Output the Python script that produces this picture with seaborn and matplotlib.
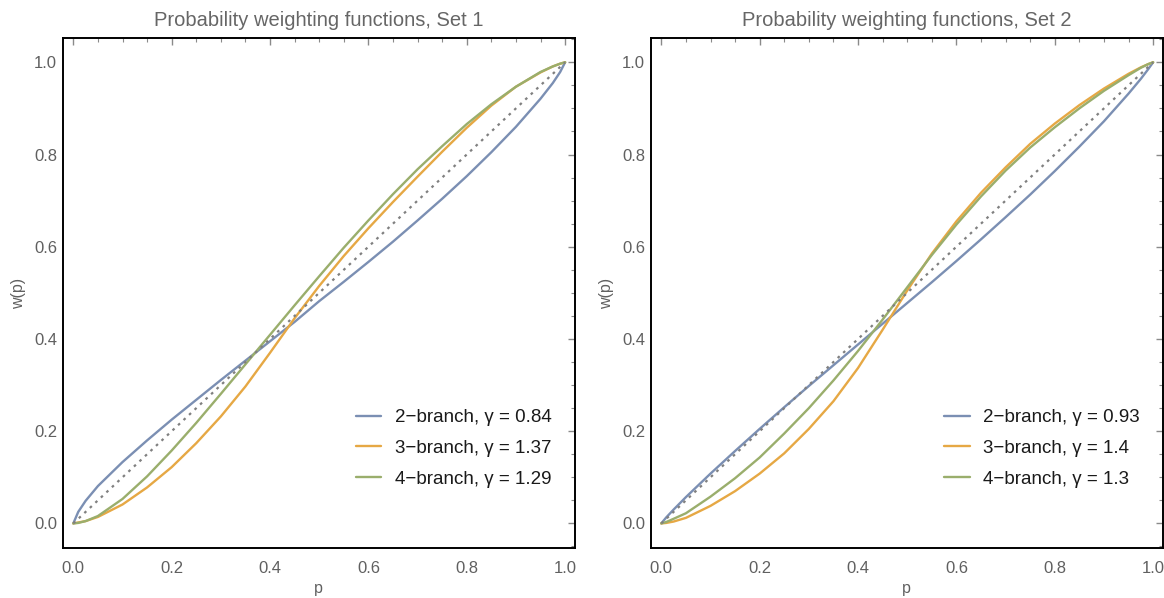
import matplotlib
matplotlib.use("Agg")
import matplotlib.pyplot as plt
import pandas as pd
import seaborn as sns
from matplotlib.ticker import MultipleLocator

# ---- data ----
p = [0, 0.01, 0.025, 0.05, 0.1, 0.15, 0.2, 0.25, 0.3, 0.35, 0.4, 0.45, 0.5,
     0.55, 0.6, 0.65, 0.7, 0.75, 0.8, 0.85, 0.9, 0.95, 0.975, 0.99, 1.0]

set1_labels = ["2\u2212branch, \u03b3 = 0.84", "3\u2212branch, \u03b3 = 1.37", "4\u2212branch, \u03b3 = 1.29"]
set1_2branch = [0, 0.025, 0.049, 0.081, 0.133, 0.180, 0.225, 0.268, 0.311, 0.353, 0.395, 0.437, 0.482,
                0.524, 0.567, 0.611, 0.657, 0.704, 0.753, 0.805, 0.860, 0.921, 0.955, 0.979, 1.0]
set1_3branch = [0, 0.002, 0.005, 0.014, 0.041, 0.078, 0.122, 0.174, 0.232, 0.297, 0.370, 0.445, 0.515,
                0.580, 0.640, 0.697, 0.752, 0.806, 0.858, 0.906, 0.947, 0.978, 0.991, 0.997, 1.0]
set1_4branch = [0, 0.001, 0.005, 0.016, 0.053, 0.102, 0.158, 0.218, 0.281, 0.345, 0.409, 0.473, 0.536,
                0.598, 0.657, 0.714, 0.768, 0.818, 0.866, 0.909, 0.947, 0.979, 0.991, 0.997, 1.0]

set2_labels = ["2\u2212branch, \u03b3 = 0.93", "3\u2212branch, \u03b3 = 1.4", "4\u2212branch, \u03b3 = 1.3"]
set2_2branch = [0, 0.013, 0.030, 0.057, 0.108, 0.157, 0.205, 0.252, 0.298, 0.343, 0.388, 0.433, 0.478,
                0.523, 0.569, 0.616, 0.664, 0.713, 0.764, 0.817, 0.872, 0.932, 0.964, 0.985, 1.0]
set2_3branch = [0, 0.001, 0.004, 0.012, 0.038, 0.070, 0.108, 0.152, 0.205, 0.265, 0.337, 0.420, 0.505,
                0.585, 0.655, 0.717, 0.772, 0.823, 0.867, 0.907, 0.943, 0.975, 0.989, 0.996, 1.0]
set2_4branch = [0, 0.003, 0.010, 0.022, 0.058, 0.098, 0.143, 0.195, 0.250, 0.310, 0.374, 0.442, 0.512,
                0.582, 0.648, 0.709, 0.765, 0.815, 0.859, 0.900, 0.938, 0.972, 0.988, 0.996, 1.0]

diag_p = [0, 1]
titles = ["Probability weighting functions, Set 1", "Probability weighting functions, Set 2"]
x_ticks = [0.0, 0.2, 0.4, 0.6, 0.8, 1.0]
y_ticks = [0.0, 0.2, 0.4, 0.6, 0.8, 1.0]

colors = ["#7b8fb3", "#e6a844", "#9aae6c"]

# ---- style ----
sns.set_theme(style="white")
plt.rcParams['font.family'] = ['Liberation Sans', 'DejaVu Sans']

fig = plt.figure(figsize=(11.64, 5.98), dpi=100)
W, H = 1164, 598
axes = [fig.add_axes([62.7 / W, 1 - 548.3 / H, 512 / W, 510 / H]),
        fig.add_axes([650.7 / W, 1 - 548.3 / H, 512 / W, 510 / H])]

panels = [(set1_labels, [set1_2branch, set1_3branch, set1_4branch]),
          (set2_labels, [set2_2branch, set2_3branch, set2_4branch])]

for ax, title, (labels, series) in zip(axes, titles, panels):
    rows = []
    for lab, vals in zip(labels, series):
        for pi, wi in zip(p, vals):
            rows.append({"p": pi, "w": wi, "series": lab})
    df = pd.DataFrame(rows)
    sns.lineplot(data=df, x="p", y="w", hue="series", hue_order=labels,
                 palette=colors, estimator=None, sort=False, linewidth=1.7,
                 ax=ax, legend=False)
    handles = list(ax.get_lines())[:3]
    sns.lineplot(x=diag_p, y=diag_p, ax=ax, color="#808080", linewidth=1.6,
                 linestyle=(0, (1.2, 2.2)), zorder=5)

    ax.set_xlim(-0.0216, 1.0195)
    ax.set_ylim(-0.054, 1.052)
    ax.set_xticks(x_ticks)
    ax.set_yticks(y_ticks)
    ax.set_xticklabels([f"{t:.1f}" for t in x_ticks])
    ax.set_yticklabels([f"{t:.1f}" for t in y_ticks])
    ax.xaxis.set_minor_locator(MultipleLocator(0.05))
    ax.yaxis.set_minor_locator(MultipleLocator(0.05))
    ax.tick_params(which="both", direction="in", top=True, right=True,
                   color="#8a8a8a", labelcolor="#606060", labelsize=12)
    ax.tick_params(which="major", length=5, width=1.0)
    ax.tick_params(axis="x", which="major", pad=9.5)
    ax.tick_params(axis="y", which="major", pad=4)
    ax.tick_params(which="minor", length=3, width=0.8)
    for s in ax.spines.values():
        s.set_color("black")
        s.set_linewidth(1.4)
    ax.set_xlabel("p", color="#606060", fontsize=11.5, labelpad=3.5)
    ax.set_ylabel("w(p)", color="#606060", fontsize=11.5, labelpad=6)
    ax.set_title(title, color="#666666", fontsize=14.5, pad=9)
    ax.grid(False)

    leg = ax.legend(handles, labels, loc="lower right", bbox_to_anchor=(0.969, 0.1045),
                    frameon=False, fontsize=13.5, handlelength=1.35, handletextpad=0.7,
                    labelspacing=0.72, borderaxespad=0)
    for t in leg.get_texts():
        t.set_color("#1a1a1a")

fig.savefig("out.png", dpi=100)
